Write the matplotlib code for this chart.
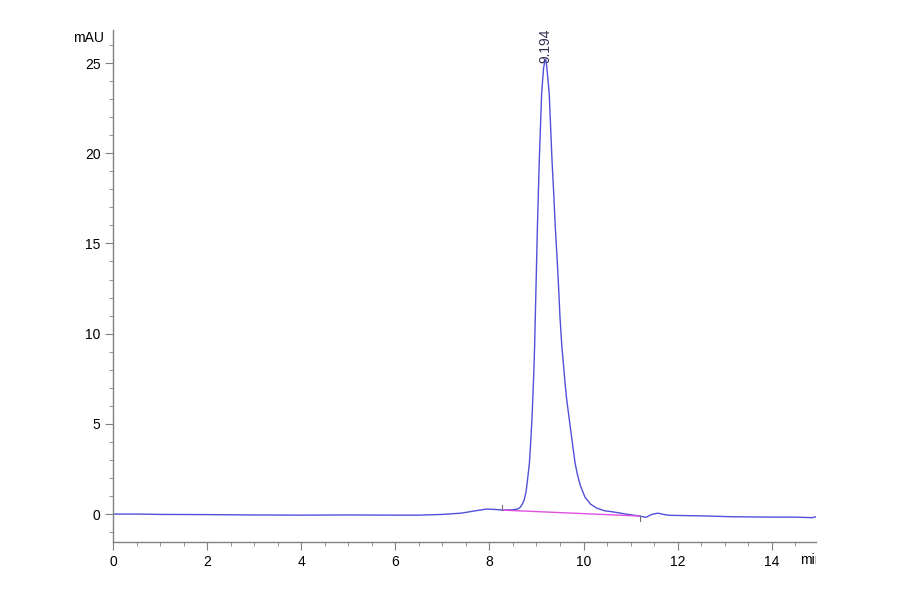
import matplotlib
matplotlib.use("Agg")
import matplotlib.pyplot as plt
from matplotlib.ticker import MultipleLocator
from matplotlib.transforms import Bbox, TransformedBbox

plt.rcParams['font.family'] = ['Liberation Sans Narrow', 'Liberation Sans', 'DejaVu Sans']

# chromatogram trace (min, mAU)
time_min = [0.0, 0.5, 1.0, 2.0, 3.0, 4.0, 5.0, 6.0, 6.5, 7.0, 7.4, 7.7,
            7.95, 8.2, 8.27, 8.5, 8.6, 8.65, 8.70, 8.74, 8.78, 8.81, 8.85,
            8.88, 8.91, 8.94, 8.96, 8.99, 9.02, 9.06, 9.11, 9.15, 9.18,
            9.194, 9.21, 9.24, 9.27, 9.30, 9.33, 9.37, 9.40, 9.44, 9.47,
            9.50, 9.54, 9.58, 9.61, 9.64, 9.68, 9.72, 9.76, 9.82, 9.87,
            9.93, 10.03, 10.15, 10.28, 10.45, 10.63, 10.9, 11.19, 11.33,
            11.45, 11.58, 11.7, 11.83, 12.5, 13.17, 14.0, 14.5, 14.86, 14.94]
signal_mau = [0.0, 0.0, -0.02, -0.03, -0.05, -0.06, -0.05, -0.06, -0.06,
              -0.02, 0.05, 0.18, 0.28, 0.24, 0.22, 0.24, 0.28, 0.36, 0.55,
              0.8, 1.25, 1.9, 2.83, 4.1, 5.6, 7.6, 9.26, 12.58, 15.9, 19.62,
              23.34, 24.7, 25.15, 25.2, 25.0, 24.2, 23.34, 21.5, 19.62,
              17.6, 15.9, 14.1, 12.58, 10.9, 9.26, 8.1, 7.2, 6.4, 5.6, 4.8,
              4.0, 2.83, 2.2, 1.6, 0.94, 0.55, 0.33, 0.18, 0.12, 0.0,
              -0.11, -0.18, -0.02, 0.05, -0.02, -0.07, -0.10, -0.15, -0.17,
              -0.17, -0.2, -0.15]

# integration baseline under the main peak
base_t = [8.27, 11.19]
base_y = [0.22, -0.11]

peak_rt = 9.194
peak_h = 25.2

fig = plt.figure(figsize=(9, 5.94), dpi=100)
ax = fig.add_axes([0.1256, 0.0875, 0.781, 0.862])

ax.plot(time_min, signal_mau, color='#5050d8', lw=1.0)
ax.plot(base_t, base_y, color='#e050e0', lw=1.0)
# start / end markers of the integration
ax.plot([base_t[0], base_t[0]], [base_y[0], base_y[0] + 0.3], color='#707070', lw=0.8)
ax.plot([base_t[1], base_t[1]], [base_y[1], base_y[1] - 0.27], color='#707070', lw=0.8)

ax.text(peak_rt, peak_h - 0.2, f'{peak_rt:.3f}', rotation=90, ha='center',
        va='bottom', fontsize=10, color='#303050')

ax.set_xlim(0, 14.94)
ax.set_ylim(-1.55, 26.83)

for s in ['top', 'right']:
    ax.spines[s].set_visible(False)
for s in ['left', 'bottom']:
    ax.spines[s].set_color('#808080')
    ax.spines[s].set_linewidth(1.0)

ax.xaxis.set_major_locator(MultipleLocator(2))
ax.xaxis.set_minor_locator(MultipleLocator(0.5))
ax.yaxis.set_major_locator(MultipleLocator(5))
ax.yaxis.set_minor_locator(MultipleLocator(1))
ax.tick_params(which='major', direction='out', length=6, color='#808080',
               labelsize=10, pad=3)
ax.tick_params(which='minor', direction='out', length=3, color='#808080')

ax.text(-0.2, 26.4, 'mAU', ha='right', va='center', fontsize=10)
t = ax.text(14.6, -2.55, 'min', ha='left', va='center', fontsize=10)
t.set_clip_box(TransformedBbox(Bbox([[-0.2, -0.2], [1.0, 1.0]]), ax.transAxes))
t.set_clip_on(True)

fig.savefig('out.png', dpi=100)
